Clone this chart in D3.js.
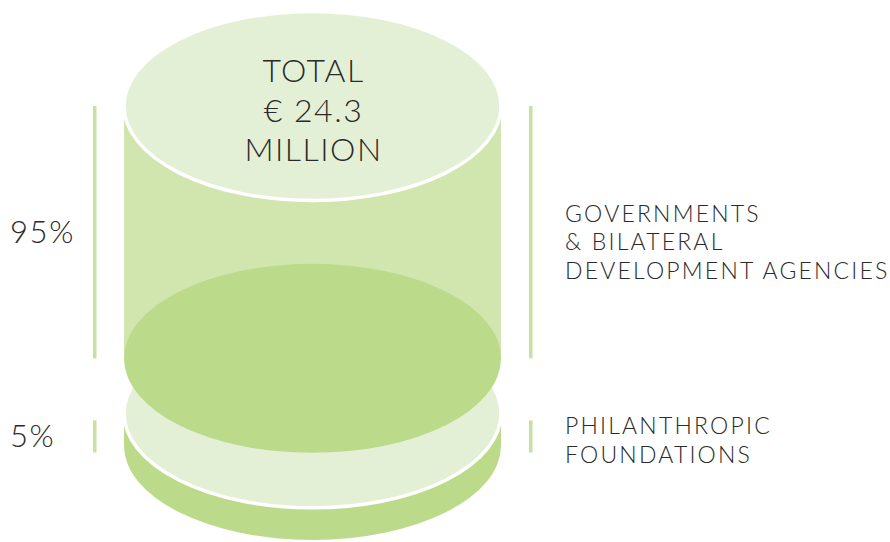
<!DOCTYPE html>
<html>
<head>
<meta charset="utf-8">
<script src="https://cdn.jsdelivr.net/npm/d3@7"></script>
<style>
  html, body { margin: 0; padding: 0; background: #ffffff; }
  svg text { font-family: Lato, "Open Sans", sans-serif; font-weight: 300; fill: #2a2a2a; }
</style>
</head>
<body>
<div id="chart"></div>
<script>
// data
var segments = ["governments", "foundations"];
var shares = [95, 5];
var shareLabels = ["95%", "5%"];
var segmentLabels = [
  ["GOVERNMENTS", "& BILATERAL", "DEVELOPMENT AGENCIES"],
  ["PHILANTHROPIC", "FOUNDATIONS"]
];
var totalLines = ["TOTAL", "\u20AC 24.3", "MILLION"];

var width = 890, height = 542;

var colors = {
  cap: "#e3f0d5",
  body: "#d0e6ae",
  dark: "#bbdb8a",
  bar: "#c6e1a0"
};

var svg = d3.select("#chart")
  .append("svg")
  .attr("width", width)
  .attr("height", height);

// cylinder geometry
var cx = 312.5, rx = 188.5, ry = 94.5;
var topY = 106, gap = 55;

// height of each slice (not linear in the original, so a power scale)
var h = d3.scalePow().exponent(0.7)
  .domain([0, 100])
  .range([0, 261.6]);

// stack the slices
var layout = [];
var y0 = topY;
shares.forEach(function(v, i) {
  var hh = h(v);
  layout.push({ key: segments[i], value: v, top: y0, bottom: y0 + hh, i: i });
  y0 = y0 + hh + gap;
});

// draw bottom slice first so the top one sits over it
var lower = layout[1], upper = layout[0];

// lower slice
svg.append("rect")
  .attr("x", cx - rx).attr("y", lower.top)
  .attr("width", rx * 2).attr("height", lower.bottom - lower.top)
  .attr("fill", colors.dark);
svg.append("ellipse")
  .attr("cx", cx).attr("cy", lower.bottom)
  .attr("rx", rx).attr("ry", ry)
  .attr("fill", colors.dark);
svg.append("ellipse")
  .attr("cx", cx).attr("cy", lower.top)
  .attr("rx", rx).attr("ry", ry)
  .attr("fill", colors.cap)
  .attr("stroke", "#ffffff")
  .attr("stroke-width", 3.5);

// upper slice
svg.append("rect")
  .attr("x", cx - rx).attr("y", upper.top)
  .attr("width", rx * 2).attr("height", upper.bottom - upper.top)
  .attr("fill", colors.body);
svg.append("ellipse")
  .attr("cx", cx).attr("cy", upper.bottom)
  .attr("rx", rx).attr("ry", ry)
  .attr("fill", colors.dark);
svg.append("ellipse")
  .attr("cx", cx).attr("cy", upper.top)
  .attr("rx", rx).attr("ry", ry)
  .attr("fill", colors.cap)
  .attr("stroke", "#ffffff")
  .attr("stroke-width", 3.5);

// total text on the top cap
svg.append("g").selectAll("text")
  .data(totalLines)
  .enter()
  .append("text")
  .attr("x", cx + 1)
  .attr("y", function(d, i) { return 82 + i * 39.5; })
  .attr("text-anchor", "middle")
  .style("font-size", "32px")
  .style("letter-spacing", "1.5px")
  .text(function(d) { return d; });

// side bars
var barShift = 7;
var bars = svg.append("g");
[93, 529].forEach(function(bx) {
  bars.selectAll(null)
    .data(layout)
    .enter()
    .append("rect")
    .attr("x", bx)
    .attr("y", function(d) { return d.top + d.i * barShift; })
    .attr("width", 3.5)
    .attr("height", function(d) { return d.bottom - d.top; })
    .attr("fill", colors.bar);
});

// percentages on the left
svg.append("g").selectAll("text")
  .data(layout)
  .enter()
  .append("text")
  .attr("x", 10)
  .attr("y", function(d) { return (d.top + d.bottom) / 2 + d.i * barShift + 11; })
  .style("font-size", "31px")
  .style("letter-spacing", "1.6px")
  .text(function(d, i) { return shareLabels[i]; });

// names on the right
var labelDy = [10, 4];
var lineH = 28.5;
layout.forEach(function(d, i) {
  var lines = segmentLabels[i];
  var mid = (d.top + d.bottom) / 2 + d.i * barShift + labelDy[i];
  var first = mid - (lines.length - 1) * lineH / 2 + 8;
  svg.append("g").selectAll("text")
    .data(lines)
    .enter()
    .append("text")
    .attr("x", 565)
    .attr("y", function(t, j) { return first + j * lineH; })
    .style("font-size", "23px")
    .style("letter-spacing", "2.2px")
    .text(function(t) { return t; });
});
</script>
</body>
</html>
